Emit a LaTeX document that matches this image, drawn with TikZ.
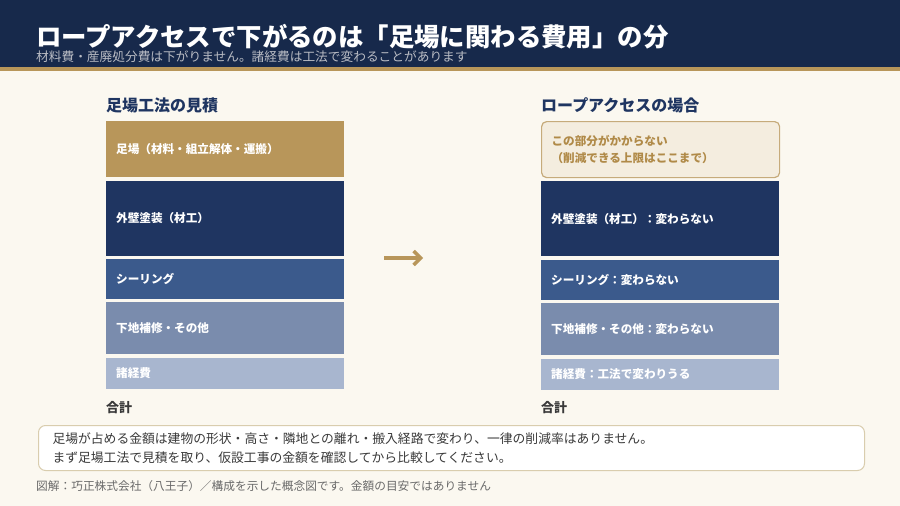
\documentclass[tikz,border=0pt]{standalone}
\usepackage{fontspec}
\setmainfont{Noto Sans CJK JP}
\usetikzlibrary{arrows.meta, positioning}
\definecolor{hdnavy}{HTML}{17294B}
\definecolor{gold}{HTML}{B8965A}
\definecolor{goldtxt}{HTML}{B08A48}
\definecolor{paper}{HTML}{FBF8F0}
\definecolor{navy}{HTML}{1F3561}
\definecolor{midblue}{HTML}{3B5A8C}
\definecolor{slate}{HTML}{7A8CAD}
\definecolor{pale}{HTML}{A8B6CF}
\definecolor{creambox}{HTML}{F4EDDF}
\definecolor{inkgray}{HTML}{3A3A3A}
\definecolor{subgray}{HTML}{B9BCC4}
\definecolor{notegray}{HTML}{6A6A6A}
\definecolor{noteline}{HTML}{D9CDAE}

\begin{document}
\begin{tikzpicture}[x=1pt, y=-1pt,
  block/.style={minimum width=238pt, text width=218pt, inner xsep=10pt, inner ysep=0pt,
    align=left, text=white, font=\fontsize{11.6}{14}\selectfont\bfseries},
  colhead/.style={anchor=west, inner sep=0pt, text=navy, font=\fontsize{16}{19}\selectfont\bfseries},
  total/.style={anchor=west, inner sep=0pt, text=inkgray, font=\fontsize{13}{15}\selectfont\bfseries}]

% Background
\useasboundingbox (0,0) rectangle (900,506);
\fill[paper] (0,0) rectangle (900,506);

% Header band
\fill[hdnavy] (0,0) rectangle (900,68);
\fill[gold] (0,67) rectangle (900,71);
\node[anchor=west, inner sep=0pt, text=white, font=\fontsize{25.4}{29}\selectfont\bfseries] (title) at (36,37)
  {ロープアクセスで下がるのは「足場に関わる費用」の分};
\node[anchor=west, inner sep=0pt, text=subgray, font=\fontsize{12.7}{15}\selectfont] (subtitle) at (36,56.5)
  {材料費・産廃処分費は下がりません。諸経費は工法で変わることがあります};

% Left column: scaffold estimate
\node[colhead] (lhead) at (106,105) {足場工法の見積};
\node[block, anchor=north west, fill=gold, minimum height=56pt] (l1) at (106,121) {足場（材料・組立解体・運搬）};
\node[block, below=3pt of l1.south west, anchor=north west, fill=navy, minimum height=75pt] (l2) {外壁塗装（材工）};
\node[block, below=3pt of l2.south west, anchor=north west, fill=midblue, minimum height=40pt] (l3) {シーリング};
\node[block, below=3pt of l3.south west, anchor=north west, fill=slate, minimum height=52pt] (l4) {下地補修・その他};
\node[block, below=3pt of l4.south west, anchor=north west, fill=pale, minimum height=31pt] (l5) {諸経費};
\node[total] (ltotal) at (106,408) {合計};

% Arrow
\coordinate (arrS) at (384,258);
\coordinate (arrE) at (423,258);
\draw[gold, line width=3.5pt, -{Straight Barb[length=7pt, width=14pt]}] (arrS) -- (arrE);

% Right column: rope access
\node[colhead] (rhead) at (541,105) {ロープアクセスの場合};
\node[block, anchor=north west, fill=creambox, draw=gold!80, line width=1.2pt, rounded corners=5pt,
  text=goldtxt, minimum height=56pt, font=\fontsize{11.6}{17}\selectfont\bfseries] (r1) at (541,121)
  {この部分がかからない\\（削減できる上限はここまで）};
\node[block, below=3pt of r1.south west, anchor=north west, fill=navy, minimum height=75pt] (r2) {外壁塗装（材工）：変わらない};
\node[block, below=3pt of r2.south west, anchor=north west, fill=midblue, minimum height=40pt] (r3) {シーリング：変わらない};
\node[block, below=3pt of r3.south west, anchor=north west, fill=slate, minimum height=52pt] (r4) {下地補修・その他：変わらない};
\node[block, below=3pt of r4.south west, anchor=north west, fill=pale, minimum height=31pt] (r5) {諸経費：工法で変わりうる};
\node[total] (rtotal) at (541,408) {合計};

% Note box
\node[anchor=north west, draw=noteline, fill=white, line width=1pt, rounded corners=7pt,
  minimum width=826pt, minimum height=45pt, text width=798pt, inner xsep=14pt, align=left,
  text=inkgray, font=\fontsize{12.8}{19}\selectfont] (note) at (38,425)
  {足場が占める金額は建物の形状・高さ・隣地との離れ・搬入経路で変わり、一律の削減率はありません。\\
   まず足場工法で見積を取り、仮設工事の金額を確認してから比較してください。};

% Credit
\node[anchor=west, inner sep=0pt, text=notegray, font=\fontsize{11.7}{14}\selectfont] (credit) at (36,486)
  {図解：巧正株式会社（八王子）／構成を示した概念図です。金額の目安ではありません};

\end{tikzpicture}
\end{document}
